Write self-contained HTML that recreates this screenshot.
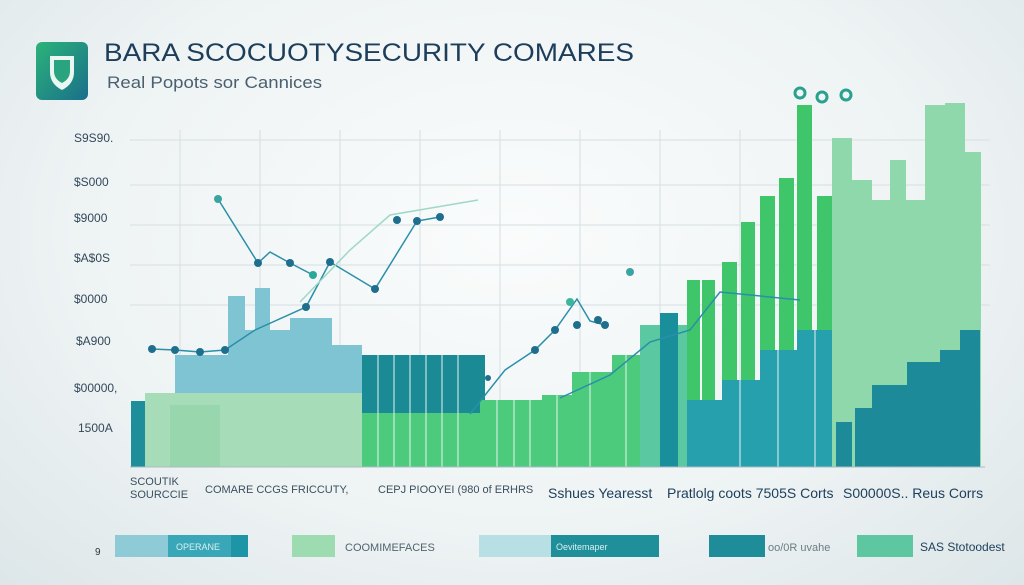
<!DOCTYPE html>
<html><head><meta charset="utf-8"><style>
body{margin:0;width:1024px;height:585px;overflow:hidden;background:radial-gradient(ellipse at 50% 40%,#fafcfc 0%,#eef3f4 60%,#dde6e8 100%);font-family:"Liberation Sans",sans-serif;}
</style></head><body>
<svg width="1024" height="585" xmlns="http://www.w3.org/2000/svg" style="position:absolute;left:0;top:0">
<defs><linearGradient id="ic" x1="0" y1="0" x2="1" y2="1"><stop offset="0" stop-color="#2bb37a"/><stop offset="1" stop-color="#1a6f8a"/></linearGradient></defs>
<rect x="36" y="42" width="52" height="58" rx="6" fill="url(#ic)"/>
<path d="M50 56 h24 v16 q0 12 -12 18 q-12 -6 -12 -18z" fill="#e9f6f2"/>
<path d="M54 60 h16 v11 q0 8 -8 12 q-8 -4 -8 -12z" fill="#2aa37f"/>
<text x="104" y="61" font-size="25" fill="#1d3e5a" textLength="530" lengthAdjust="spacingAndGlyphs">BARA  SCOCUOTYSECURITY COMARES</text>
<text x="107" y="88" font-size="17" fill="#4a6070" textLength="215" lengthAdjust="spacingAndGlyphs">Real  Popots  sor Cannices</text>
<g font-size="12" fill="#33485a">
<text x="74" y="142">S9S90.</text><text x="74" y="186">$S000</text><text x="74" y="222">$9000</text>
<text x="74" y="262">$A$0S</text><text x="74" y="303">$0000</text><text x="76" y="345">$A900</text>
<text x="74" y="392">$00000,</text><text x="78" y="432">1500A</text></g>
<g stroke="#d5dfe2" stroke-width="1">
<line x1="130" y1="140" x2="990" y2="140"/><line x1="130" y1="185" x2="990" y2="185"/><line x1="130" y1="225" x2="990" y2="225"/><line x1="130" y1="265" x2="990" y2="265"/><line x1="130" y1="305" x2="990" y2="305"/>
<line x1="180" y1="130" x2="180" y2="467"/><line x1="260" y1="130" x2="260" y2="467"/><line x1="340" y1="130" x2="340" y2="467"/><line x1="420" y1="130" x2="420" y2="467"/><line x1="500" y1="130" x2="500" y2="467"/><line x1="580" y1="130" x2="580" y2="467"/><line x1="660" y1="130" x2="660" y2="467"/><line x1="740" y1="130" x2="740" y2="467"/></g>
<g fill="#7fc4d2">
<rect x="175" y="355" width="55" height="112"/><rect x="228" y="296" width="17" height="171"/><rect x="255" y="288" width="15" height="179"/><rect x="245" y="330" width="45" height="137"/><rect x="290" y="318" width="42" height="149"/><rect x="332" y="345" width="30" height="122"/></g>
<g fill="#a6dcb8"><rect x="145" y="393" width="220" height="74"/><rect x="170" y="405" width="50" height="62" fill="#98d6ad"/></g>
<rect x="131" y="401" width="14" height="66" fill="#1e8f9a"/>
<rect x="362" y="355" width="123" height="60" fill="#1a8a95"/>
<g fill="#4dcb7c"><rect x="362" y="413" width="180" height="54"/><rect x="480" y="400" width="62" height="67"/>
<rect x="542" y="395" width="30" height="72"/><rect x="572" y="372" width="40" height="95"/><rect x="612" y="355" width="30" height="112"/></g>
<rect x="640" y="325" width="48" height="142" fill="#5ac9a2"/>
<rect x="660" y="313" width="18" height="154" fill="#1a8f9c"/>
<g fill="#3fc56a"><rect x="687" y="280" width="13" height="120"/><rect x="702" y="280" width="13" height="120"/><rect x="722" y="262" width="15" height="138"/><rect x="741" y="222" width="14" height="178"/><rect x="760" y="196" width="15" height="204"/><rect x="779" y="178" width="15" height="222"/><rect x="797" y="105" width="15" height="295"/><rect x="817" y="196" width="15" height="200"/></g>
<g fill="#27a0ae"><rect x="687" y="400" width="145" height="67"/><rect x="722" y="380" width="110" height="87"/><rect x="760" y="350" width="72" height="117"/><rect x="797" y="330" width="35" height="137"/></g>
<g fill="#8fd8ac"><rect x="832" y="138" width="20" height="329"/><rect x="850" y="180" width="22" height="287"/><rect x="870" y="200" width="22" height="267"/><rect x="890" y="160" width="16" height="307"/><rect x="905" y="200" width="22" height="267"/><rect x="925" y="105" width="20" height="362"/><rect x="945" y="103" width="20" height="364"/><rect x="963" y="152" width="18" height="315"/></g>
<g fill="#1c8a98"><rect x="836" y="422" width="16" height="45"/><rect x="855" y="408" width="17" height="59"/><rect x="872" y="385" width="35" height="82"/><rect x="907" y="362" width="33" height="105"/><rect x="940" y="350" width="22" height="117"/><rect x="960" y="330" width="20" height="137"/></g>
<g stroke="#eef6f4" stroke-width="1.2" opacity="0.8">
<line x1="378" y1="355" x2="378" y2="467"/><line x1="394" y1="355" x2="394" y2="467"/><line x1="410" y1="355" x2="410" y2="467"/><line x1="426" y1="355" x2="426" y2="467"/><line x1="442" y1="355" x2="442" y2="467"/><line x1="458" y1="355" x2="458" y2="467"/><line x1="497" y1="400" x2="497" y2="467"/><line x1="514" y1="400" x2="514" y2="467"/><line x1="530" y1="400" x2="530" y2="467"/><line x1="557" y1="395" x2="557" y2="467"/><line x1="590" y1="372" x2="590" y2="467"/><line x1="626" y1="355" x2="626" y2="467"/><line x1="740" y1="380" x2="740" y2="467"/><line x1="778" y1="350" x2="778" y2="467"/><line x1="815" y1="330" x2="815" y2="467"/></g>
<line x1="130" y1="467" x2="985" y2="467" stroke="#a9bcc2"/>
<g fill="none" stroke="#2a8fa8" stroke-width="1.5">
<polyline points="218,199 258,263 270,252 290,263 313,275"/>
<polyline points="152,349 175,350 200,352 225,350 255,330 306,307 330,262 375,289 417,221 440,217"/>
<polyline points="470,414 505,370 535,350 555,330 577,299 590,321 605,325"/>
<polyline points="560,398 610,375 650,342 690,330 720,292 800,300"/>
</g>
<polyline points="300,302 350,250 390,215 478,200" fill="none" stroke="#9fd8c8" stroke-width="1.5"/>
<g fill="#1e6f8e"><circle cx="218" cy="199" r="4" fill="#3aa4a0"/><circle cx="258" cy="263" r="4"/><circle cx="290" cy="263" r="4"/><circle cx="313" cy="275" r="4" fill="#2aa89a"/><circle cx="152" cy="349" r="4"/><circle cx="175" cy="350" r="4"/><circle cx="200" cy="352" r="4"/><circle cx="225" cy="350" r="4"/><circle cx="306" cy="307" r="4"/><circle cx="330" cy="262" r="4"/><circle cx="375" cy="289" r="4"/><circle cx="397" cy="220" r="4"/><circle cx="417" cy="221" r="4"/><circle cx="440" cy="217" r="4"/><circle cx="535" cy="350" r="4"/><circle cx="555" cy="330" r="4"/><circle cx="577" cy="325" r="4"/><circle cx="598" cy="320" r="4"/><circle cx="605" cy="325" r="4"/><circle cx="570" cy="302" r="4" fill="#3bb89a"/><circle cx="630" cy="272" r="4" fill="#3aa4a0"/><circle cx="488" cy="378" r="3"/></g>
<g fill="none" stroke="#2aa08f" stroke-width="3"><circle cx="800" cy="93" r="5"/><circle cx="822" cy="97" r="5"/><circle cx="846" cy="95" r="5"/></g>
<g font-size="11" fill="#3b4f5e">
<text x="130" y="485">SCOUTIK</text><text x="130" y="498">SOURCCIE</text>
<text x="205" y="493">COMARE  CCGS  FRICCUTY,</text><text x="378" y="493">CEPJ PIOOYEI (980 of ERHRS</text></g>
<g font-size="14" fill="#1d3e5a"><text x="548" y="498">Sshues Yearesst</text><text x="667" y="498">Pratlolg coots 7505S  Corts</text><text x="843" y="498">S00000S.. Reus Corrs</text></g>
<text x="95" y="555" font-size="10" fill="#333">9</text>
<rect x="115" y="535" width="133" height="22" fill="#8fcbd6"/><rect x="168" y="535" width="65" height="22" fill="#3aa7b8"/><rect x="231" y="535" width="17" height="22" fill="#1e95a6"/>
<text x="176" y="550" font-size="9" fill="#d8f0f3">OPERANE</text>
<rect x="292" y="535" width="43" height="22" fill="#9ddcb0"/><text x="345" y="551" font-size="11" fill="#506470">COOMIMEFACES</text>
<rect x="479" y="535" width="72" height="22" fill="#b8e0e4"/><rect x="551" y="535" width="108" height="22" fill="#1f8f9a"/><text x="556" y="550" font-size="9" fill="#d8f0f3">Oevitemaper</text>
<rect x="709" y="535" width="56" height="22" fill="#1e8d99"/><text x="768" y="551" font-size="11" fill="#6a7c86">oo/0R uvahe</text>
<rect x="857" y="535" width="56" height="22" fill="#5cc7a0"/><text x="920" y="551" font-size="12" fill="#1d3e5a">SAS Stotoodest</text>
</svg>
</body></html>
